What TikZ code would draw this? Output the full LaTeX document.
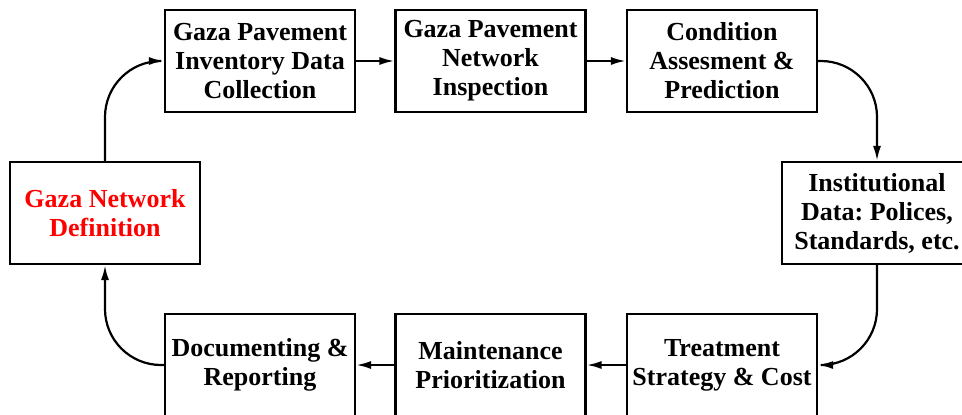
\documentclass[tikz,border=0pt]{standalone}
\usepackage{fontspec}
\setmainfont{Liberation Serif}
\frenchspacing
\usetikzlibrary{arrows.meta}
\begin{document}
\begin{tikzpicture}[x=0.5pt,y=-0.5pt]
\tikzstyle{stage}=[draw,line width=1.1pt,minimum width=95pt,minimum height=51pt,align=center,inner sep=0pt,font=\fontsize{13}{14.5}\selectfont\bfseries]
\tikzstyle{flow}=[line width=1.1pt,rounded corners=28pt,-{Latex[length=7.5pt,width=4pt]}]
    \useasboundingbox (0,0) rectangle (962,414);
    \node [stage,text=red] (gaza) at (105,213) {Gaza Network\\Definition};
    \node [stage] (inventory) at (260,61) {Gaza Pavement\\Inventory Data\\Collection};
    \node [stage] (inspection) at (490.5,61) {Gaza Pavement\\Network\\Inspection};
    \node [stage] (condition) at (722,61) {Condition\\Assesment \&\\Prediction};
    \node [stage] (institutional) at (877,213) {Institutional\\Data: Polices,\\Standards, etc.};
    \node [stage] (treatment) at (722,365) {Treatment\\Strategy \& Cost};
    \node [stage] (maintenance) at (490.5,365) {Maintenance\\Prioritization};
    \node [stage] (documenting) at (260,365) {Documenting \&\\Reporting};
    \draw [flow] (gaza.north) |- (inventory.west);
    \draw [flow] (inventory) to (inspection);
    \draw [flow] (inspection) to (condition);
    \draw [flow] (condition.east) -| (institutional.north);
    \draw [flow] (institutional.south) |- (treatment.east);
    \draw [flow] (treatment) to (maintenance);
    \draw [flow] (maintenance) to (documenting);
    \draw [flow] (documenting.west) -| (gaza.south);
\end{tikzpicture}
\end{document}
